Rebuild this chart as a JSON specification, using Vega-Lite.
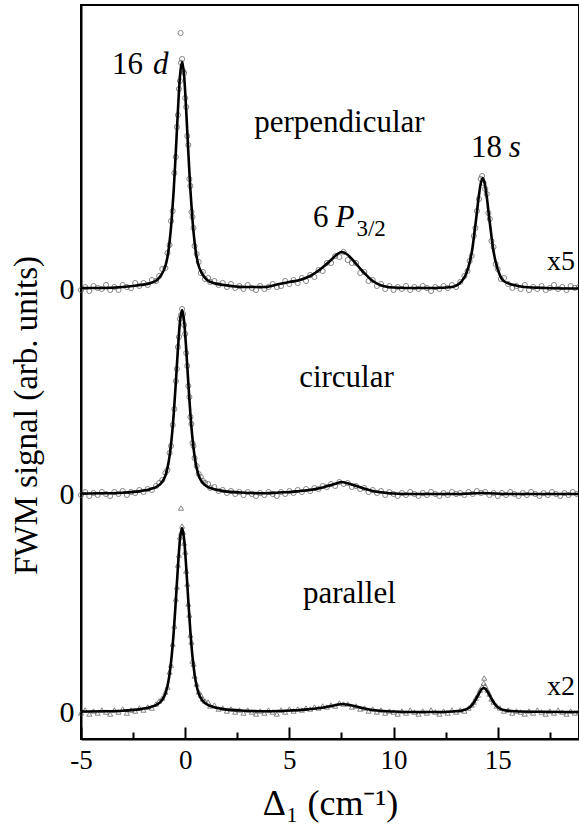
{
"$schema":"https://vega.github.io/schema/vega-lite/v6.json",
"autosize":{"type":"none"},
"padding":{"left":81,"top":5,"right":0,"bottom":90},
"width":498,"height":734,
"background":"white",
"config":{"view":{"stroke":"black","strokeWidth":2},"font":"Liberation Serif"},
"datasets":{
"fit":[
{"t":"P","x":-5,"y":451},{"t":"P","x":-4,"y":451},{"t":"P","x":-3,"y":452},{"t":"P","x":-2.15,"y":454},{"t":"P","x":-1.65,"y":456},{"t":"P","x":-1.35,"y":459},{"t":"P","x":-1.15,"y":464},{"t":"P","x":-0.95,"y":473},{"t":"P","x":-0.85,"y":482},{"t":"P","x":-0.75,"y":497},{"t":"P","x":-0.65,"y":519},{"t":"P","x":-0.55,"y":549},{"t":"P","x":-0.45,"y":587},{"t":"P","x":-0.35,"y":628},{"t":"P","x":-0.25,"y":663},{"t":"P","x":-0.15,"y":677},{"t":"P","x":-0.05,"y":663},{"t":"P","x":0.05,"y":628},{"t":"P","x":0.15,"y":587},{"t":"P","x":0.25,"y":549},{"t":"P","x":0.35,"y":519},{"t":"P","x":0.45,"y":497},{"t":"P","x":0.55,"y":482},{"t":"P","x":0.65,"y":473},{"t":"P","x":0.85,"y":464},{"t":"P","x":1.05,"y":459},{"t":"P","x":1.35,"y":456},{"t":"P","x":1.85,"y":454},{"t":"P","x":2.85,"y":452},{"t":"P","x":3.85,"y":452},{"t":"P","x":4.5,"y":455},{"t":"P","x":5,"y":457},{"t":"P","x":5.5,"y":459},{"t":"P","x":6,"y":463},{"t":"P","x":6.5,"y":470},{"t":"P","x":7,"y":479},{"t":"P","x":7.25,"y":484},{"t":"P","x":7.5,"y":487},{"t":"P","x":7.75,"y":485},{"t":"P","x":8,"y":480},{"t":"P","x":8.5,"y":468},{"t":"P","x":9,"y":458},{"t":"P","x":9.5,"y":453},{"t":"P","x":10,"y":451.5},{"t":"P","x":11,"y":451},{"t":"P","x":12,"y":451},{"t":"P","x":12.8,"y":452},{"t":"P","x":13.28,"y":458},{"t":"P","x":13.48,"y":465},{"t":"P","x":13.68,"y":479},{"t":"P","x":13.78,"y":490},{"t":"P","x":13.88,"y":506},{"t":"P","x":13.98,"y":523},{"t":"P","x":14.08,"y":541},{"t":"P","x":14.18,"y":555},{"t":"P","x":14.28,"y":561},{"t":"P","x":14.38,"y":555},{"t":"P","x":14.48,"y":541},{"t":"P","x":14.58,"y":523},{"t":"P","x":14.68,"y":506},{"t":"P","x":14.78,"y":490},{"t":"P","x":14.88,"y":479},{"t":"P","x":15.08,"y":465},{"t":"P","x":15.28,"y":458},{"t":"P","x":15.78,"y":454},{"t":"P","x":16.28,"y":452},{"t":"P","x":17.28,"y":451},{"t":"P","x":18.9,"y":450.5},
{"t":"C","x":-5,"y":245.5},{"t":"C","x":-4,"y":245.7},{"t":"C","x":-3,"y":246.3},{"t":"C","x":-2.15,"y":247.9},{"t":"C","x":-1.65,"y":250},{"t":"C","x":-1.35,"y":252.5},{"t":"C","x":-1.15,"y":256},{"t":"C","x":-0.95,"y":263.4},{"t":"C","x":-0.85,"y":270.9},{"t":"C","x":-0.75,"y":282.9},{"t":"C","x":-0.65,"y":300.6},{"t":"C","x":-0.55,"y":325.2},{"t":"C","x":-0.45,"y":356.1},{"t":"C","x":-0.35,"y":389.6},{"t":"C","x":-0.25,"y":417.6},{"t":"C","x":-0.15,"y":429},{"t":"C","x":-0.05,"y":417.6},{"t":"C","x":0.05,"y":389.6},{"t":"C","x":0.15,"y":356.1},{"t":"C","x":0.25,"y":325.2},{"t":"C","x":0.35,"y":300.6},{"t":"C","x":0.45,"y":282.9},{"t":"C","x":0.55,"y":270.9},{"t":"C","x":0.65,"y":263.4},{"t":"C","x":0.85,"y":256},{"t":"C","x":1.05,"y":252.5},{"t":"C","x":1.35,"y":250},{"t":"C","x":1.85,"y":247.9},{"t":"C","x":2.85,"y":246.3},{"t":"C","x":3.85,"y":245.7},{"t":"C","x":4.5,"y":246.5},{"t":"C","x":5,"y":247},{"t":"C","x":5.5,"y":248},{"t":"C","x":6,"y":249},{"t":"C","x":6.5,"y":251},{"t":"C","x":7,"y":254},{"t":"C","x":7.25,"y":255.5},{"t":"C","x":7.5,"y":257},{"t":"C","x":7.75,"y":256},{"t":"C","x":8,"y":254.5},{"t":"C","x":8.5,"y":251},{"t":"C","x":9,"y":248},{"t":"C","x":9.5,"y":246.5},{"t":"C","x":10,"y":245.5},{"t":"C","x":11,"y":245},{"t":"C","x":13,"y":245},{"t":"C","x":14.28,"y":246},{"t":"C","x":15.5,"y":245},{"t":"C","x":18.9,"y":245},
{"t":"A","x":-5,"y":27.5},{"t":"A","x":-4,"y":27.7},{"t":"A","x":-3,"y":28.3},{"t":"A","x":-2.15,"y":29.9},{"t":"A","x":-1.65,"y":32},{"t":"A","x":-1.35,"y":34.5},{"t":"A","x":-1.15,"y":38},{"t":"A","x":-0.95,"y":45.4},{"t":"A","x":-0.85,"y":52.9},{"t":"A","x":-0.75,"y":64.9},{"t":"A","x":-0.65,"y":82.6},{"t":"A","x":-0.55,"y":107.2},{"t":"A","x":-0.45,"y":138.1},{"t":"A","x":-0.35,"y":171.6},{"t":"A","x":-0.25,"y":199.6},{"t":"A","x":-0.15,"y":211},{"t":"A","x":-0.05,"y":199.6},{"t":"A","x":0.05,"y":171.6},{"t":"A","x":0.15,"y":138.1},{"t":"A","x":0.25,"y":107.2},{"t":"A","x":0.35,"y":82.6},{"t":"A","x":0.45,"y":64.9},{"t":"A","x":0.55,"y":52.9},{"t":"A","x":0.65,"y":45.4},{"t":"A","x":0.85,"y":38},{"t":"A","x":1.05,"y":34.5},{"t":"A","x":1.35,"y":32},{"t":"A","x":1.85,"y":29.9},{"t":"A","x":2.85,"y":28.3},{"t":"A","x":3.85,"y":27.7},{"t":"A","x":4.5,"y":28},{"t":"A","x":5,"y":28.5},{"t":"A","x":5.5,"y":29},{"t":"A","x":6,"y":30},{"t":"A","x":6.5,"y":31},{"t":"A","x":7,"y":33},{"t":"A","x":7.25,"y":34},{"t":"A","x":7.5,"y":35},{"t":"A","x":7.75,"y":34.5},{"t":"A","x":8,"y":33.5},{"t":"A","x":8.5,"y":31},{"t":"A","x":9,"y":29},{"t":"A","x":9.5,"y":28},{"t":"A","x":10,"y":27.5},{"t":"A","x":11,"y":27},{"t":"A","x":12,"y":27},{"t":"A","x":12.8,"y":27.5},{"t":"A","x":13.33,"y":28.8},{"t":"A","x":13.53,"y":30.1},{"t":"A","x":13.73,"y":33.2},{"t":"A","x":13.83,"y":35.8},{"t":"A","x":13.93,"y":39},{"t":"A","x":14.03,"y":42.8},{"t":"A","x":14.13,"y":46.7},{"t":"A","x":14.23,"y":49.8},{"t":"A","x":14.33,"y":51},{"t":"A","x":14.43,"y":49.8},{"t":"A","x":14.53,"y":46.7},{"t":"A","x":14.63,"y":42.8},{"t":"A","x":14.73,"y":39},{"t":"A","x":14.83,"y":35.8},{"t":"A","x":14.93,"y":33.2},{"t":"A","x":15.13,"y":30.1},{"t":"A","x":15.33,"y":28.8},{"t":"A","x":15.83,"y":27.8},{"t":"A","x":17,"y":27.2},{"t":"A","x":18.9,"y":27}
],
"pts":[
{"t":"P","x":-5,"y":449},{"t":"P","x":-4.8,"y":452},{"t":"P","x":-4.6,"y":448},{"t":"P","x":-4.4,"y":453},{"t":"P","x":-4.2,"y":451},{"t":"P","x":-4,"y":450},{"t":"P","x":-3.8,"y":454},{"t":"P","x":-3.6,"y":449},{"t":"P","x":-3.4,"y":452},{"t":"P","x":-3.2,"y":449},{"t":"P","x":-3,"y":454},{"t":"P","x":-2.8,"y":452},{"t":"P","x":-2.6,"y":451},{"t":"P","x":-2.4,"y":456},{"t":"P","x":-2.2,"y":453},{"t":"P","x":-2,"y":456},{"t":"P","x":-1.8,"y":454},{"t":"P","x":-1.6,"y":459},{"t":"P","x":-1.4,"y":458},
{"t":"P","x":-1.25,"y":463},{"t":"P","x":-1.1,"y":470},{"t":"P","x":-0.95,"y":471},{"t":"P","x":-0.85,"y":486},{"t":"P","x":-0.75,"y":494},{"t":"P","x":-0.68,"y":518},{"t":"P","x":-0.6,"y":528},{"t":"P","x":-0.52,"y":566},{"t":"P","x":-0.45,"y":582},{"t":"P","x":-0.4,"y":612},{"t":"P","x":-0.35,"y":624},{"t":"P","x":-0.3,"y":650},{"t":"P","x":-0.25,"y":658},{"t":"P","x":-0.2,"y":676},{"t":"P","x":-0.15,"y":680},{"t":"P","x":-0.1,"y":668},{"t":"P","x":-0.05,"y":666},{"t":"P","x":0,"y":641},{"t":"P","x":0.05,"y":632},{"t":"P","x":0.1,"y":603},{"t":"P","x":0.15,"y":594},{"t":"P","x":0.2,"y":560},{"t":"P","x":0.25,"y":553},{"t":"P","x":0.3,"y":527},{"t":"P","x":0.35,"y":522},{"t":"P","x":0.4,"y":511},{"t":"P","x":0.45,"y":493},{"t":"P","x":0.55,"y":485},{"t":"P","x":0.65,"y":477},{"t":"P","x":0.75,"y":466},{"t":"P","x":0.85,"y":467},{"t":"P","x":0.95,"y":460},{"t":"P","x":1.1,"y":461},{"t":"P","x":-0.22,"y":706},
{"t":"P","x":1.2,"y":457},{"t":"P","x":1.4,"y":458},{"t":"P","x":1.6,"y":454},{"t":"P","x":1.8,"y":456},{"t":"P","x":2,"y":452},{"t":"P","x":2.2,"y":455},{"t":"P","x":2.4,"y":451},{"t":"P","x":2.6,"y":453},{"t":"P","x":2.8,"y":450},{"t":"P","x":3,"y":454},{"t":"P","x":3.2,"y":451},{"t":"P","x":3.4,"y":449},{"t":"P","x":3.6,"y":453},{"t":"P","x":3.8,"y":450},{"t":"P","x":4,"y":452},{"t":"P","x":4.2,"y":455},{"t":"P","x":4.4,"y":452},
{"t":"P","x":4.6,"y":453},{"t":"P","x":4.8,"y":458},{"t":"P","x":5,"y":455},{"t":"P","x":5.2,"y":459},{"t":"P","x":5.4,"y":456},{"t":"P","x":5.6,"y":461},{"t":"P","x":5.8,"y":458},{"t":"P","x":6,"y":464},{"t":"P","x":6.2,"y":462},{"t":"P","x":6.4,"y":469},{"t":"P","x":6.6,"y":468},{"t":"P","x":6.8,"y":476},{"t":"P","x":7,"y":476},{"t":"P","x":7.2,"y":483},{"t":"P","x":7.4,"y":482},{"t":"P","x":7.6,"y":487},{"t":"P","x":7.8,"y":479},{"t":"P","x":8,"y":476},{"t":"P","x":8.2,"y":476},{"t":"P","x":8.4,"y":466},{"t":"P","x":8.6,"y":467},{"t":"P","x":8.8,"y":458},{"t":"P","x":9,"y":459},{"t":"P","x":9.2,"y":453},{"t":"P","x":9.4,"y":455},{"t":"P","x":9.6,"y":450},{"t":"P","x":9.8,"y":453},{"t":"P","x":10,"y":449},{"t":"P","x":10.2,"y":452},{"t":"P","x":10.4,"y":450},{"t":"P","x":10.6,"y":453},{"t":"P","x":10.8,"y":449},{"t":"P","x":11,"y":452},{"t":"P","x":11.2,"y":450},{"t":"P","x":11.4,"y":453},{"t":"P","x":11.6,"y":451},{"t":"P","x":11.8,"y":448},{"t":"P","x":12,"y":452},{"t":"P","x":12.2,"y":450},{"t":"P","x":12.4,"y":453},{"t":"P","x":12.6,"y":451},{"t":"P","x":12.8,"y":454},{"t":"P","x":13,"y":452},{"t":"P","x":13.2,"y":457},
{"t":"P","x":13.4,"y":463},{"t":"P","x":13.55,"y":468},{"t":"P","x":13.65,"y":478},{"t":"P","x":13.75,"y":483},{"t":"P","x":13.85,"y":503},{"t":"P","x":13.93,"y":511},{"t":"P","x":14,"y":528},{"t":"P","x":14.1,"y":540},{"t":"P","x":14.18,"y":560},{"t":"P","x":14.25,"y":563},{"t":"P","x":14.32,"y":556},{"t":"P","x":14.4,"y":550},{"t":"P","x":14.47,"y":545},{"t":"P","x":14.55,"y":526},{"t":"P","x":14.62,"y":520},{"t":"P","x":14.7,"y":498},{"t":"P","x":14.8,"y":492},{"t":"P","x":14.9,"y":475},{"t":"P","x":15,"y":470},{"t":"P","x":15.15,"y":460},{"t":"P","x":15.3,"y":461},{"t":"P","x":15.5,"y":455},{"t":"P","x":15.7,"y":451},{"t":"P","x":15.9,"y":453},{"t":"P","x":16.1,"y":450},{"t":"P","x":16.3,"y":454},{"t":"P","x":16.5,"y":449},{"t":"P","x":16.7,"y":452},{"t":"P","x":16.9,"y":450},{"t":"P","x":17.1,"y":453},{"t":"P","x":17.3,"y":449},{"t":"P","x":17.5,"y":451},{"t":"P","x":17.7,"y":454},{"t":"P","x":17.9,"y":450},{"t":"P","x":18.1,"y":452},{"t":"P","x":18.3,"y":449},{"t":"P","x":18.5,"y":453},{"t":"P","x":18.7,"y":451},{"t":"P","x":18.9,"y":452},
{"t":"C","x":-5,"y":244},{"t":"C","x":-4.8,"y":247},{"t":"C","x":-4.6,"y":243},{"t":"C","x":-4.4,"y":246},{"t":"C","x":-4.2,"y":244},{"t":"C","x":-4,"y":247},{"t":"C","x":-3.8,"y":245},{"t":"C","x":-3.6,"y":243},{"t":"C","x":-3.4,"y":247},{"t":"C","x":-3.2,"y":245},{"t":"C","x":-3,"y":248},{"t":"C","x":-2.8,"y":244},{"t":"C","x":-2.6,"y":247},{"t":"C","x":-2.4,"y":246},{"t":"C","x":-2.2,"y":249},{"t":"C","x":-2,"y":247},{"t":"C","x":-1.8,"y":250},{"t":"C","x":-1.6,"y":249},{"t":"C","x":-1.4,"y":253},
{"t":"C","x":-1.25,"y":256},{"t":"C","x":-1.1,"y":259},{"t":"C","x":-0.95,"y":266},{"t":"C","x":-0.85,"y":269},{"t":"C","x":-0.75,"y":286},{"t":"C","x":-0.68,"y":293},{"t":"C","x":-0.6,"y":314},{"t":"C","x":-0.52,"y":330},{"t":"C","x":-0.45,"y":358},{"t":"C","x":-0.4,"y":370},{"t":"C","x":-0.35,"y":392},{"t":"C","x":-0.3,"y":402},{"t":"C","x":-0.25,"y":420},{"t":"C","x":-0.2,"y":424},{"t":"C","x":-0.15,"y":430},{"t":"C","x":-0.1,"y":425},{"t":"C","x":-0.05,"y":414},{"t":"C","x":0,"y":405},{"t":"C","x":0.05,"y":386},{"t":"C","x":0.1,"y":373},{"t":"C","x":0.15,"y":353},{"t":"C","x":0.2,"y":342},{"t":"C","x":0.25,"y":322},{"t":"C","x":0.3,"y":315},{"t":"C","x":0.35,"y":296},{"t":"C","x":0.4,"y":293},{"t":"C","x":0.45,"y":281},{"t":"C","x":0.55,"y":273},{"t":"C","x":0.65,"y":265},{"t":"C","x":0.75,"y":262},{"t":"C","x":0.85,"y":258},{"t":"C","x":0.95,"y":256},{"t":"C","x":1.1,"y":255},
{"t":"C","x":1.2,"y":251},{"t":"C","x":1.4,"y":252},{"t":"C","x":1.6,"y":248},{"t":"C","x":1.8,"y":249},{"t":"C","x":2,"y":246},{"t":"C","x":2.2,"y":248},{"t":"C","x":2.4,"y":245},{"t":"C","x":2.6,"y":247},{"t":"C","x":2.8,"y":244},{"t":"C","x":3,"y":247},{"t":"C","x":3.2,"y":245},{"t":"C","x":3.4,"y":243},{"t":"C","x":3.6,"y":246},{"t":"C","x":3.8,"y":244},{"t":"C","x":4,"y":247},{"t":"C","x":4.2,"y":245},{"t":"C","x":4.4,"y":243},{"t":"C","x":4.6,"y":247},{"t":"C","x":4.8,"y":245},{"t":"C","x":5,"y":248},{"t":"C","x":5.2,"y":246},{"t":"C","x":5.4,"y":249},{"t":"C","x":5.6,"y":247},{"t":"C","x":5.8,"y":250},{"t":"C","x":6,"y":248},{"t":"C","x":6.2,"y":251},{"t":"C","x":6.4,"y":250},{"t":"C","x":6.6,"y":253},{"t":"C","x":6.8,"y":252},{"t":"C","x":7,"y":255},{"t":"C","x":7.2,"y":253},{"t":"C","x":7.4,"y":257},{"t":"C","x":7.6,"y":255},{"t":"C","x":7.8,"y":256},{"t":"C","x":8,"y":252},{"t":"C","x":8.2,"y":253},{"t":"C","x":8.4,"y":250},{"t":"C","x":8.6,"y":251},{"t":"C","x":8.8,"y":247},{"t":"C","x":9,"y":249},{"t":"C","x":9.2,"y":246},{"t":"C","x":9.4,"y":248},{"t":"C","x":9.6,"y":244},{"t":"C","x":9.8,"y":247},{"t":"C","x":10,"y":245},{"t":"C","x":10.2,"y":243},{"t":"C","x":10.4,"y":246},{"t":"C","x":10.6,"y":244},{"t":"C","x":10.8,"y":247},{"t":"C","x":11,"y":245},{"t":"C","x":11.2,"y":243},{"t":"C","x":11.4,"y":246},{"t":"C","x":11.6,"y":244},{"t":"C","x":11.8,"y":247},{"t":"C","x":12,"y":245},{"t":"C","x":12.2,"y":243},{"t":"C","x":12.4,"y":246},{"t":"C","x":12.6,"y":244},{"t":"C","x":12.8,"y":247},{"t":"C","x":13,"y":245},{"t":"C","x":13.2,"y":246},{"t":"C","x":13.4,"y":244},{"t":"C","x":13.6,"y":247},{"t":"C","x":13.8,"y":245},{"t":"C","x":14,"y":248},{"t":"C","x":14.2,"y":246},{"t":"C","x":14.4,"y":247},{"t":"C","x":14.6,"y":244},{"t":"C","x":14.8,"y":246},{"t":"C","x":15,"y":243},{"t":"C","x":15.2,"y":246},{"t":"C","x":15.4,"y":244},{"t":"C","x":15.6,"y":247},{"t":"C","x":15.8,"y":245},{"t":"C","x":16,"y":243},{"t":"C","x":16.2,"y":246},{"t":"C","x":16.4,"y":244},{"t":"C","x":16.6,"y":247},{"t":"C","x":16.8,"y":245},{"t":"C","x":17,"y":243},{"t":"C","x":17.2,"y":246},{"t":"C","x":17.4,"y":244},{"t":"C","x":17.6,"y":247},{"t":"C","x":17.8,"y":245},{"t":"C","x":18,"y":243},{"t":"C","x":18.2,"y":246},{"t":"C","x":18.4,"y":244},{"t":"C","x":18.6,"y":247},{"t":"C","x":18.8,"y":245},
{"t":"A","x":-5,"y":26},{"t":"A","x":-4.8,"y":29},{"t":"A","x":-4.6,"y":25},{"t":"A","x":-4.4,"y":28},{"t":"A","x":-4.2,"y":26},{"t":"A","x":-4,"y":29},{"t":"A","x":-3.8,"y":27},{"t":"A","x":-3.6,"y":25},{"t":"A","x":-3.4,"y":29},{"t":"A","x":-3.2,"y":27},{"t":"A","x":-3,"y":30},{"t":"A","x":-2.8,"y":26},{"t":"A","x":-2.6,"y":29},{"t":"A","x":-2.4,"y":28},{"t":"A","x":-2.2,"y":31},{"t":"A","x":-2,"y":29},{"t":"A","x":-1.8,"y":32},{"t":"A","x":-1.6,"y":31},{"t":"A","x":-1.4,"y":35},
{"t":"A","x":-1.25,"y":38},{"t":"A","x":-1.1,"y":41},{"t":"A","x":-0.95,"y":47},{"t":"A","x":-0.85,"y":52},{"t":"A","x":-0.75,"y":67},{"t":"A","x":-0.68,"y":74},{"t":"A","x":-0.6,"y":95},{"t":"A","x":-0.52,"y":113},{"t":"A","x":-0.45,"y":140},{"t":"A","x":-0.4,"y":152},{"t":"A","x":-0.35,"y":174},{"t":"A","x":-0.3,"y":184},{"t":"A","x":-0.25,"y":202},{"t":"A","x":-0.2,"y":206},{"t":"A","x":-0.15,"y":213},{"t":"A","x":-0.1,"y":207},{"t":"A","x":-0.05,"y":196},{"t":"A","x":0,"y":187},{"t":"A","x":0.05,"y":168},{"t":"A","x":0.1,"y":155},{"t":"A","x":0.15,"y":135},{"t":"A","x":0.2,"y":124},{"t":"A","x":0.25,"y":104},{"t":"A","x":0.3,"y":97},{"t":"A","x":0.35,"y":78},{"t":"A","x":0.4,"y":75},{"t":"A","x":0.45,"y":63},{"t":"A","x":0.55,"y":55},{"t":"A","x":0.65,"y":47},{"t":"A","x":0.75,"y":44},{"t":"A","x":0.85,"y":40},{"t":"A","x":0.95,"y":38},{"t":"A","x":1.1,"y":37},{"t":"A","x":-0.2,"y":231},
{"t":"A","x":1.2,"y":33},{"t":"A","x":1.4,"y":34},{"t":"A","x":1.6,"y":30},{"t":"A","x":1.8,"y":31},{"t":"A","x":2,"y":28},{"t":"A","x":2.2,"y":30},{"t":"A","x":2.4,"y":27},{"t":"A","x":2.6,"y":29},{"t":"A","x":2.8,"y":26},{"t":"A","x":3,"y":29},{"t":"A","x":3.2,"y":27},{"t":"A","x":3.4,"y":25},{"t":"A","x":3.6,"y":28},{"t":"A","x":3.8,"y":26},{"t":"A","x":4,"y":29},{"t":"A","x":4.2,"y":27},{"t":"A","x":4.4,"y":25},{"t":"A","x":4.6,"y":29},{"t":"A","x":4.8,"y":27},{"t":"A","x":5,"y":30},{"t":"A","x":5.2,"y":28},{"t":"A","x":5.4,"y":30},{"t":"A","x":5.6,"y":29},{"t":"A","x":5.8,"y":31},{"t":"A","x":6,"y":30},{"t":"A","x":6.2,"y":32},{"t":"A","x":6.4,"y":31},{"t":"A","x":6.6,"y":33},{"t":"A","x":6.8,"y":32},{"t":"A","x":7,"y":34},{"t":"A","x":7.2,"y":33},{"t":"A","x":7.4,"y":36},{"t":"A","x":7.6,"y":35},{"t":"A","x":7.8,"y":35},{"t":"A","x":8,"y":32},{"t":"A","x":8.2,"y":33},{"t":"A","x":8.4,"y":30},{"t":"A","x":8.6,"y":31},{"t":"A","x":8.8,"y":28},{"t":"A","x":9,"y":30},{"t":"A","x":9.2,"y":27},{"t":"A","x":9.4,"y":29},{"t":"A","x":9.6,"y":26},{"t":"A","x":9.8,"y":28},{"t":"A","x":10,"y":27},{"t":"A","x":10.2,"y":25},{"t":"A","x":10.4,"y":28},{"t":"A","x":10.6,"y":26},{"t":"A","x":10.8,"y":29},{"t":"A","x":11,"y":27},{"t":"A","x":11.2,"y":25},{"t":"A","x":11.4,"y":28},{"t":"A","x":11.6,"y":26},{"t":"A","x":11.8,"y":29},{"t":"A","x":12,"y":27},{"t":"A","x":12.2,"y":25},{"t":"A","x":12.4,"y":28},{"t":"A","x":12.6,"y":26},{"t":"A","x":12.8,"y":29},{"t":"A","x":13,"y":27},{"t":"A","x":13.2,"y":29},{"t":"A","x":13.4,"y":28},{"t":"A","x":13.6,"y":31},{"t":"A","x":13.75,"y":34},{"t":"A","x":13.85,"y":37},{"t":"A","x":13.95,"y":41},{"t":"A","x":14.05,"y":44},{"t":"A","x":14.15,"y":49},{"t":"A","x":14.25,"y":52},{"t":"A","x":14.33,"y":56},{"t":"A","x":14.4,"y":53},{"t":"A","x":14.5,"y":49},{"t":"A","x":14.6,"y":45},{"t":"A","x":14.7,"y":40},{"t":"A","x":14.8,"y":37},{"t":"A","x":14.95,"y":33},{"t":"A","x":15.1,"y":31},{"t":"A","x":15.3,"y":28},{"t":"A","x":15.5,"y":29},{"t":"A","x":15.7,"y":26},{"t":"A","x":15.9,"y":28},{"t":"A","x":16.1,"y":27},{"t":"A","x":16.3,"y":25},{"t":"A","x":16.5,"y":28},{"t":"A","x":16.7,"y":26},{"t":"A","x":16.9,"y":29},{"t":"A","x":17.1,"y":27},{"t":"A","x":17.3,"y":25},{"t":"A","x":17.5,"y":28},{"t":"A","x":17.7,"y":26},{"t":"A","x":17.9,"y":29},{"t":"A","x":18.1,"y":27},{"t":"A","x":18.3,"y":25},{"t":"A","x":18.5,"y":28},{"t":"A","x":18.7,"y":26},{"t":"A","x":18.9,"y":28},{"t":"A","x":14.35,"y":61}
]
},
"encoding":{
"x":{"field":"x","type":"quantitative","scale":{"domain":[-5,18.9],"nice":false,"zero":false},
 "axis":{"title":"Δ₁ (cm⁻¹)","values":[-5,-2.5,0,2.5,5,7.5,10,12.5,15,17.5],"labelExpr":"datum.value % 5 === 0 ? '' + datum.value : ''","labelFlush":false,"labelOverlap":false,"grid":false,
 "tickSize":{"condition":{"test":"datum.value % 5 === 0","value":-12},"value":-7},"tickColor":"black","tickWidth":2,"domainColor":"black","domainWidth":2,
 "labelFont":"Liberation Serif","labelFontSize":27,"labelColor":"black","labelPadding":20,
 "titleFont":"Liberation Serif","titleFontSize":36,"titleFontWeight":"normal","titleColor":"black","titlePadding":8}},
"y":{"field":"y","type":"quantitative","scale":{"domain":[0,734],"nice":false,"zero":false},
 "axis":{"title":"FWM signal (arb. units)","values":[27,245,450],"labelExpr":"'0'","ticks":false,"grid":false,"domainColor":"black","domainWidth":2,
 "labelFont":"Liberation Serif","labelFontSize":30,"labelColor":"black","labelPadding":7,"labelBaseline":"middle",
 "titleFont":"Liberation Serif","titleFontSize":33,"titleFontWeight":"normal","titleColor":"black","titleX":-55,"titleY":410,"titleAngle":270,"titleAlign":"center","titleBaseline":"middle"}}
},
"layer":[
{"data":{"name":"pts"},"mark":{"type":"point","filled":false,"strokeWidth":1,"size":26,"color":"#555"},
 "encoding":{"shape":{"field":"t","type":"nominal","scale":{"domain":["P","C","A"],"range":["circle","circle","triangle-up"]},"legend":null}}},
{"data":{"name":"fit"},"mark":{"type":"line","color":"black","strokeWidth":2.6,"interpolate":"monotone"},
 "encoding":{"detail":{"field":"t"}}},
{"data":{"values":[{"x":-2.02,"y":665,"label":"16"},{"x":15.2,"y":582,"label":"18"},{"x":6.875,"y":512,"label":"6"}]},
 "mark":{"type":"text","align":"right","baseline":"alphabetic","font":"Liberation Serif","fontSize":31,"color":"black"},
 "encoding":{"text":{"field":"label"}}},
{"data":{"values":[{"x":-1.55,"y":665,"label":"d"},{"x":15.53,"y":582,"label":"s"},{"x":7.21,"y":512,"label":"P"}]},
 "mark":{"type":"text","align":"left","baseline":"alphabetic","font":"Liberation Serif","fontStyle":"italic","fontSize":31,"color":"black"},
 "encoding":{"text":{"field":"label"}}},
{"data":{"values":[{"x":8.22,"y":503,"label":"3/2"}]},
 "mark":{"type":"text","align":"left","baseline":"alphabetic","font":"Liberation Serif","fontSize":23,"color":"black"},
 "encoding":{"text":{"field":"label"}}},
{"data":{"values":[{"x":7.4,"y":607,"label":"perpendicular"},{"x":7.74,"y":352,"label":"circular"},{"x":7.88,"y":136,"label":"parallel"}]},
 "mark":{"type":"text","align":"center","baseline":"alphabetic","font":"Liberation Serif","fontSize":31,"color":"black"},
 "encoding":{"text":{"field":"label"}}},
{"data":{"values":[{"x":17.36,"y":469,"label":"x5"},{"x":17.36,"y":44,"label":"x2"}]},
 "mark":{"type":"text","align":"left","baseline":"alphabetic","font":"Liberation Serif","fontSize":28,"color":"black"},
 "encoding":{"text":{"field":"label"}}}
]
}
